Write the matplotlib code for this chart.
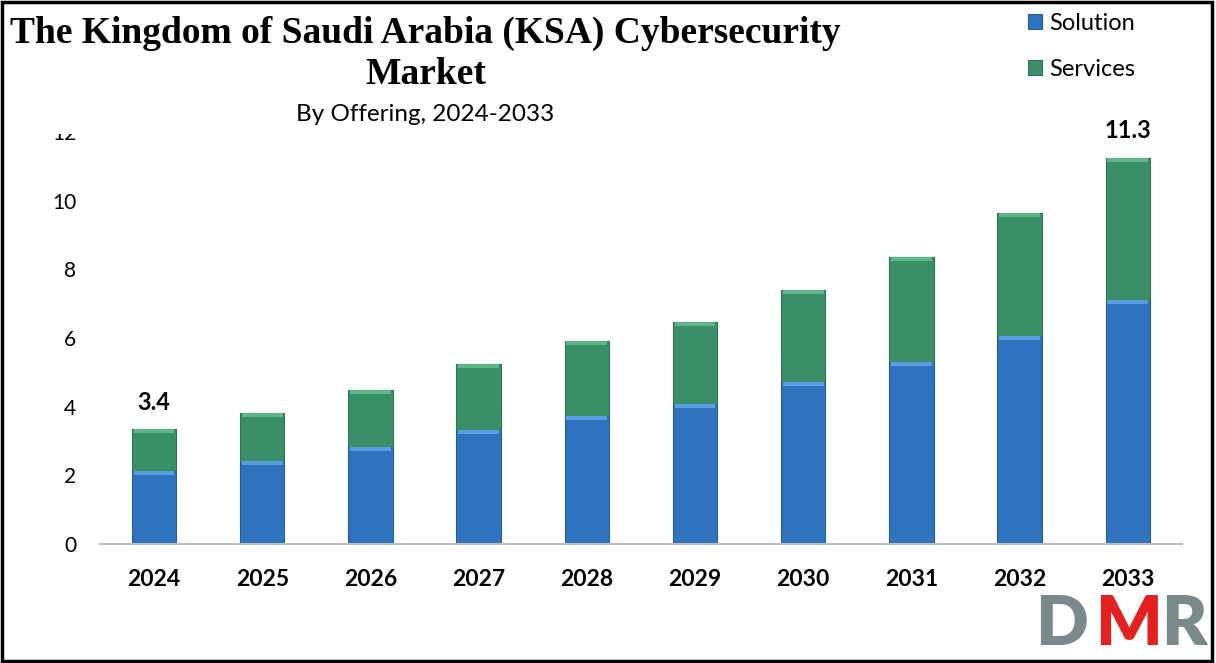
import matplotlib.pyplot as plt
from matplotlib.patches import Rectangle
from matplotlib.transforms import Bbox
import numpy as np

years = ['2024', '2025', '2026', '2027', '2028', '2029', '2030', '2031', '2032', '2033']
solution = [2.13, 2.42, 2.83, 3.32, 3.73, 4.08, 4.72, 5.31, 6.06, 7.11]
services = [1.22, 1.40, 1.66, 1.93, 2.19, 2.39, 2.69, 3.06, 3.59, 4.14]
total_labels = {0: '3.4', 9: '11.3'}

blue = '#2F72BD'
blue_light = '#5B9BE0'
green = '#3A8F69'
green_light = '#5DB58A'

fig = plt.figure(figsize=(12.16, 6.63), dpi=100)
ax = fig.add_axes([0.0822, 0.1795, 0.8898, 0.6215])

x = np.arange(len(years))
w = 0.41
sol = np.array(solution)
ser = np.array(services)
tot = sol + ser

ax.bar(x, sol, w, color=blue, edgecolor='#2A5F9E', linewidth=0.8, label='Solution', zorder=2)
ax.bar(x, ser, w, bottom=sol, color=green, edgecolor='#2F7555', linewidth=0.8, label='Services', zorder=2)
# bevel highlight at the top of each segment
ax.bar(x, 0.12, w * 0.92, bottom=sol - 0.13, color=blue_light, linewidth=0, zorder=3)
ax.bar(x, 0.12, w * 0.92, bottom=tot - 0.13, color=green_light, linewidth=0, zorder=3)

for i, txt in total_labels.items():
    ax.text(x[i], tot[i] + 0.45, txt, ha='center', va='bottom', fontsize=17,
            fontweight='bold', family='Lato', clip_on=False)

ax.set_xlim(-0.5, len(years) - 0.5)
ax.set_ylim(0, 12)
ax.set_yticks(range(0, 13, 2))
ax.set_xticks(x)
ax.set_xticklabels(years, fontsize=16.5, fontweight='bold', family='Lato')
for lbl in ax.get_yticklabels():
    lbl.set_fontsize(15)
    lbl.set_family('Lato')
ax.tick_params(length=0)
ax.tick_params(axis='x', pad=18)
ax.tick_params(axis='y', pad=17)
for s in ['left', 'right', 'top']:
    ax.spines[s].set_visible(False)
ax.spines['bottom'].set_color('#BFBFBF')
ax.spines['bottom'].set_linewidth(1.5)

# the top tick label is cut off in the original
top_lbl = ax.get_yticklabels()[-1]
top_lbl.set_clip_box(Bbox([[0, 0], [1216, 663 - 134]]))
top_lbl.set_clip_on(True)

fig.text(0.35, 0.919, 'The Kingdom of Saudi Arabia (KSA) Cybersecurity\nMarket',
         ha='center', va='center', fontsize=27, fontweight='bold',
         family='Liberation Serif', linespacing=1.22)
fig.text(0.35, 0.828, 'By Offering, 2024-2033', ha='center', va='center',
         fontsize=17.5, family='Lato')

fig.legend(loc='upper left', bbox_to_anchor=(0.828, 1.012), frameon=False,
           prop={'family': 'Lato', 'size': 17}, handlelength=0.6, handleheight=0.6,
           handletextpad=0.3, labelspacing=1.05)

# DMR logo
logo = dict(fontsize=50, fontweight='heavy', family='Lato', va='bottom')
fig.text(0.851, 0.009, 'D', color='#7A8A8C', **logo)
fig.text(0.901, 0.009, 'M', color='#E3211F', **logo)
fig.text(0.955, 0.009, 'R', color='#7A8A8C', **logo)

fig.patches.append(Rectangle((0.002, 0.003), 0.995, 0.994, transform=fig.transFigure,
                             fill=False, edgecolor='black', linewidth=2.5))

fig.savefig('out.png', dpi=100)
